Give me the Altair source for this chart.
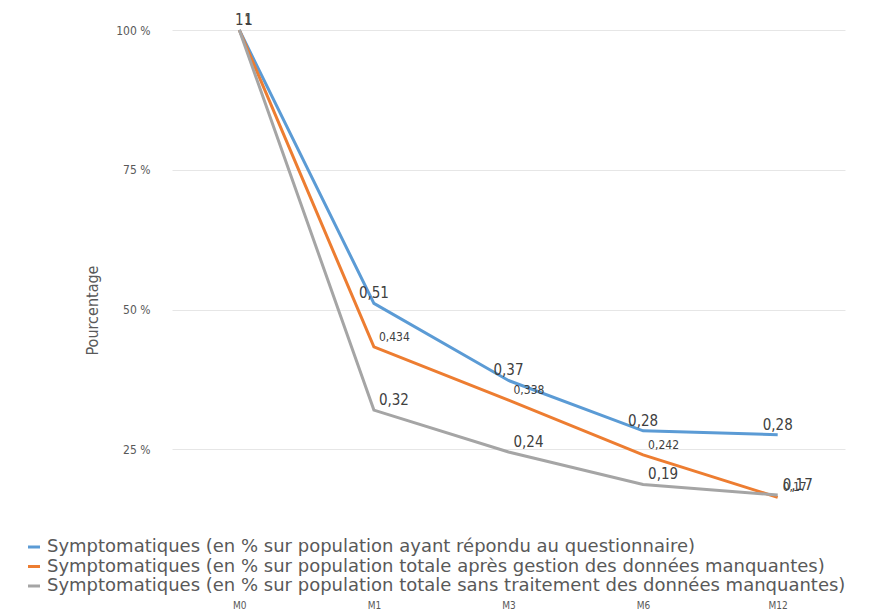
import altair as alt
import pandas as pd

mois = ["M0", "M1", "M3", "M6", "M12"]
series_names = [
    "Symptomatiques (en % sur population ayant répondu au questionnaire)",
    "Symptomatiques (en % sur population totale après gestion des données manquantes)",
    "Symptomatiques (en % sur population totale sans traitement des données manquantes)",
]
bleu = [1.0, 0.511, 0.373, 0.283, 0.276]
orange = [1.0, 0.433, 0.338, 0.240, 0.164]
gris = [1.0, 0.32, 0.245, 0.187, 0.168]
lab_bleu = ["1", "0,51", "0,37", "0,28", "0,28"]
lab_orange = ["1", "0,434", "0,338", "0,242", "0,17"]
lab_gris = ["1", "0,32", "0,24", "0,19", "0,17"]
couleurs = ["#5B9BD5", "#ED7D31", "#A5A5A5"]

rows = []
for name, vals, labs in zip(series_names, [bleu, orange, gris], [lab_bleu, lab_orange, lab_gris]):
    for m, v, l in zip(mois, vals, labs):
        rows.append({"mois": m, "serie": name, "valeur": v, "label": l})
df = pd.DataFrame(rows)

FONT = "DejaVu Sans Condensed"
LFONT = "DejaVu Sans"

x = alt.X("mois:N", sort=mois, scale=alt.Scale(type="point", padding=0.5),
          axis=alt.Axis(title=None, labelAngle=0, ticks=False, domain=False, grid=False,
                        labelFontSize=10, labelColor="#595959", labelPadding=11, labelFont=FONT))
y = alt.Y("valeur:Q", scale=alt.Scale(domain=[0, 1], nice=False),
          axis=alt.Axis(title="Pourcentage", values=[0.25, 0.5, 0.75, 1.0],
                        labelExpr="format(datum.value*100, 'd') + ' %'",
                        ticks=False, domain=False, gridColor="#E6E6E6", gridWidth=1,
                        labelFontSize=12, labelColor="#595959", labelPadding=22, labelFont=FONT,
                        titleFontSize=16, titleFontWeight="normal", titleColor="#595959", titleFont=FONT,
                        titleX=-80, titleY=280, titleAngle=-90, titleAlign="center", titleBaseline="middle"))

base = alt.Chart(df)

lines = base.mark_line(strokeWidth=3).encode(
    x=x, y=y,
    color=alt.Color("serie:N", sort=series_names,
                    scale=alt.Scale(domain=series_names, range=couleurs),
                    legend=alt.Legend(title=None, orient="none", legendX=-147, legendY=508,
                                      symbolType="stroke", symbolStrokeWidth=3, symbolSize=144,
                                      labelFontSize=18, labelColor="#595959", labelFont=LFONT,
                                      labelLimit=1000, rowPadding=1.5)),
    order=alt.Order("ord:Q"),
).transform_calculate(ord="indexof(['M0','M1','M3','M6','M12'], datum.mois)")

t_bleu = base.transform_filter(alt.datum.serie == series_names[0]).mark_text(
    align="center", dy=-10, fontSize=15, color="#404040", font=FONT
).encode(x=x, y=y, text="label:N")
t_orange = base.transform_filter(alt.datum.serie == series_names[1]).mark_text(
    align="left", dx=5, dy=-10, fontSize=12, color="#404040", font=FONT
).encode(x=x, y=y, text="label:N")
t_gris = base.transform_filter(alt.datum.serie == series_names[2]).mark_text(
    align="left", dx=5, dy=-10, fontSize=15, color="#404040", font=FONT
).encode(x=x, y=y, text="label:N")

chart = alt.layer(lines, t_bleu, t_orange, t_gris).properties(
    width=673, height=559,
    autosize=alt.AutoSizeParams(type="none"),
    padding={"left": 164, "top": 22, "right": 20, "bottom": 26},
).configure_view(stroke=None)

chart.save("out.html", embed_options={"renderer": "svg", "actions": False})
